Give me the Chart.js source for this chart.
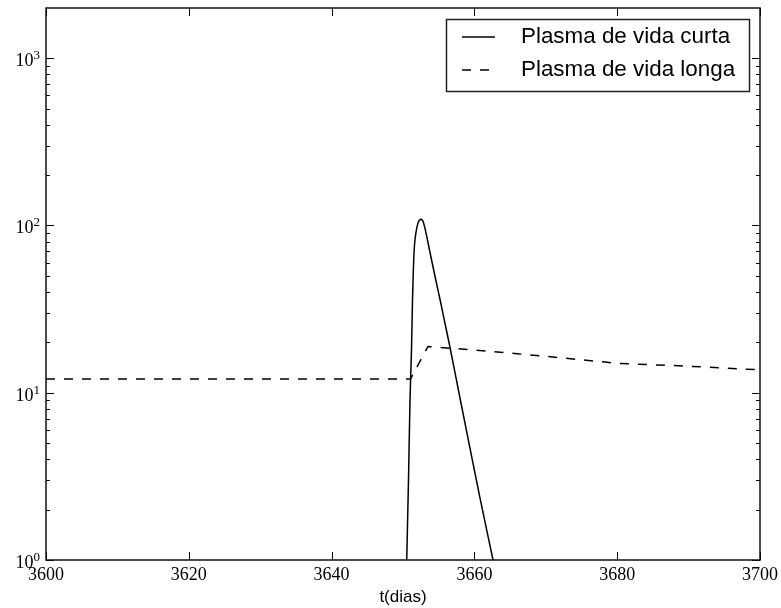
<!DOCTYPE html>
<html>
<head>
<meta charset="utf-8">
<script src="https://cdn.jsdelivr.net/npm/chart.js@4.4.1/dist/chart.umd.min.js"></script>
<style>
  html, body { margin: 0; padding: 0; background: #fff; }
</style>
</head>
<body>
<canvas id="plasmaChart" width="781" height="608"></canvas>
<script>
// short-lived plasma cells (solid)
const curtaT = [3650.52, 3650.77, 3650.98, 3651.19, 3651.33, 3651.44, 3651.58, 3651.82, 3652.14, 3652.52, 3652.80, 3653.08, 3653.78, 3654.48, 3655.18, 3655.88, 3656.58, 3657.98, 3659.38, 3660.78, 3662.61];
const curtaV = [1.0, 3.0, 9.0, 18.0, 35.7, 52.5, 73, 91, 104.5, 109, 106, 96, 69, 49.7, 36.2, 26, 18.7, 9.3, 4.67, 2.35, 1.0];

// long-lived plasma cells (dashed)
const longaT = [3600, 3651.05, 3653.5, 3660, 3666, 3670, 3678, 3680, 3690, 3700];
const longaV = [12.1, 12.1, 18.9, 18.0, 17.1, 16.5, 15.3, 15.0, 14.4, 13.7];

const xTicks = [3600, 3620, 3640, 3660, 3680, 3700];
const yDecades = [1, 10, 100, 1000];

const toPoints = (t, v) => t.map((x, i) => ({ x: x, y: v[i] }));

// matplotlib-like inward ticks, frame, 10^n labels and legend
const mplDecor = {
  id: "mplDecor",
  afterDraw(chart) {
    const { ctx, chartArea: a, scales } = chart;
    const xs = scales.x, ys = scales.y;
    ctx.save();
    ctx.strokeStyle = "#000";
    ctx.lineWidth = 1;
    ctx.beginPath();
    xTicks.forEach(v => {
      const px = Math.round(xs.getPixelForValue(v)) + 0.5;
      ctx.moveTo(px, a.bottom); ctx.lineTo(px, a.bottom - 8);
      ctx.moveTo(px, a.top); ctx.lineTo(px, a.top + 8);
    });
    ys.ticks.forEach(t => {
      const major = yDecades.includes(t.value);
      const len = major ? 8 : 4;
      const py = Math.round(ys.getPixelForValue(t.value)) + 0.5;
      ctx.moveTo(a.left, py); ctx.lineTo(a.left + len, py);
      ctx.moveTo(a.right, py); ctx.lineTo(a.right - len, py);
    });
    ctx.stroke();

    ctx.lineWidth = 1.5;
    ctx.strokeStyle = "#111";
    ctx.strokeRect(a.left, a.top, a.right - a.left, a.bottom - a.top);

    // y labels as 10 with raised exponent
    ctx.fillStyle = "#000";
    ctx.textBaseline = "alphabetic";
    yDecades.forEach(d => {
      const py = ys.getPixelForValue(d);
      const exp = String(Math.round(Math.log10(d)));
      ctx.font = "13px 'Liberation Serif', serif";
      ctx.textAlign = "right";
      ctx.fillText(exp, a.left - 6, py + 1);
      const ew = ctx.measureText(exp).width;
      ctx.font = "18px 'Liberation Serif', serif";
      ctx.fillText("10", a.left - 6 - ew, py + 8);
    });

    // legend
    const lx = 446.5, ly = 19.5, lw = 303, lh = 72;
    ctx.fillStyle = "#fff";
    ctx.fillRect(lx, ly, lw, lh);
    ctx.strokeStyle = "#222";
    ctx.lineWidth = 1.5;
    ctx.strokeRect(lx, ly, lw, lh);
    ctx.font = "22.4px 'Liberation Sans', Arial, sans-serif";
    ctx.textAlign = "left";
    ctx.textBaseline = "middle";
    ctx.fillStyle = "#000";
    chart.data.datasets.forEach((ds, i) => {
      const y = 37 + i * 33;
      ctx.beginPath();
      ctx.setLineDash(ds.borderDash || []);
      ctx.lineWidth = 1.5;
      ctx.strokeStyle = "#000";
      ctx.moveTo(462, y); ctx.lineTo(495, y);
      ctx.stroke();
      ctx.setLineDash([]);
      ctx.fillText(ds.label, 521, y);
    });
    ctx.restore();
  }
};

new Chart(document.getElementById("plasmaChart"), {
  type: "line",
  data: {
    datasets: [
      {
        label: "Plasma de vida curta",
        data: toPoints(curtaT, curtaV),
        borderColor: "#000",
        borderWidth: 1.5,
        pointRadius: 0,
        cubicInterpolationMode: "monotone",
        fill: false
      },
      {
        label: "Plasma de vida longa",
        data: toPoints(longaT, longaV),
        borderColor: "#000",
        borderWidth: 1.5,
        borderDash: [9, 9],
        pointRadius: 0,
        tension: 0,
        fill: false
      }
    ]
  },
  options: {
    responsive: false,
    animation: false,
    devicePixelRatio: 1,
    layout: { padding: { left: 0, right: 21, top: 8, bottom: 0 } },
    plugins: {
      legend: { display: false },
      tooltip: { enabled: false }
    },
    scales: {
      x: {
        type: "linear",
        min: 3600,
        max: 3700,
        afterBuildTicks: s => { s.ticks = xTicks.map(v => ({ value: v })); },
        afterFit: s => { s.height = 48; s.paddingLeft = 0; s.paddingRight = 0; },
        grid: { display: false, drawTicks: false },
        border: { display: false },
        ticks: {
          autoSkip: false,
          maxRotation: 0,
          padding: 4,
          color: "#000",
          font: { family: "'Liberation Serif', serif", size: 18 },
          callback: v => String(v)
        },
        title: {
          display: true,
          text: "t(dias)",
          color: "#000",
          font: { family: "'Liberation Sans', Arial, sans-serif", size: 17 },
          padding: { top: 0, bottom: 0 }
        }
      },
      y: {
        type: "logarithmic",
        min: 1,
        max: 1995,
        afterBuildTicks: s => {
          const t = [];
          yDecades.forEach(d => {
            for (let k = 1; k <= 9; k++) {
              if (d * k <= 1995) t.push({ value: d * k });
            }
          });
          s.ticks = t;
        },
        afterFit: s => { s.width = 46; s.paddingTop = 0; s.paddingBottom = 0; },
        grid: { display: false, drawTicks: false },
        border: { display: false },
        ticks: {
          autoSkip: false,
          padding: 6,
          color: "#000",
          callback: () => ""
        }
      }
    }
  },
  plugins: [mplDecor]
});
</script>
</body>
</html>
